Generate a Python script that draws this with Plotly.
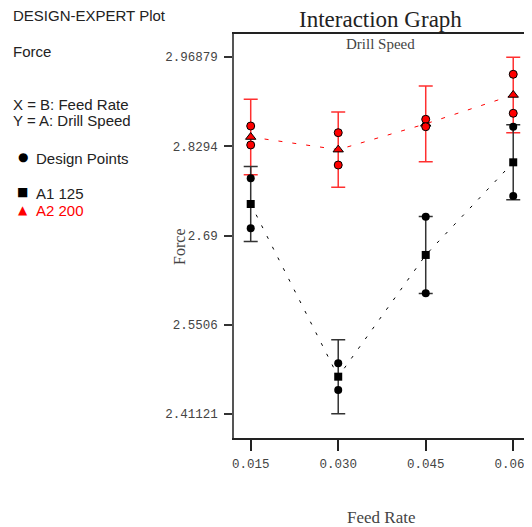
import plotly.graph_objects as go

# ---- data ----
feed_rate = [0.015, 0.030, 0.045, 0.060]
feed_labels = ["0.015", "0.030", "0.045", "0.060"]
force_ticks = [2.41121, 2.5506, 2.69, 2.8294, 2.96879]
force_tick_labels = ["2.41121", "2.5506", "2.69", "2.8294", "2.96879"]

a1_mean = [2.7392, 2.4695, 2.6596, 2.8043]          # A1 125
a2_mean = [2.8438, 2.8241, 2.8644, 2.9095]          # A2 200
a1_err = [0.0586, 0.0578, 0.0600, 0.0585]
a2_err = [0.0589, 0.0588, 0.0591, 0.0589]

pts_x = [0.015, 0.015, 0.030, 0.030, 0.045, 0.045, 0.060, 0.060]
a1_pts = [2.7794, 2.7013, 2.4904, 2.4487, 2.7194, 2.5998, 2.8599, 2.7517]
a2_pts = [2.8610, 2.8314, 2.8506, 2.8001, 2.8715, 2.8599, 2.9418, 2.8809]

# ---- layout geometry (pixels, page offset of 8px from body margin) ----
OFF = 8
W, H = 532 - OFF, 527 - OFF
L, T = 234 - OFF, 34 - OFF
BOT = 438 - OFF
R, B = 0, H - BOT
PW, PH = W - L - R, H - T - B

def px(x):
    return (x - OFF - L) / PW

def py(y):
    return (BOT - (y - OFF)) / PH

fig = go.Figure()

# interaction lines
fig.add_trace(go.Scatter(x=feed_rate, y=a2_mean, mode="lines",
                         line=dict(color="red", width=1, dash="4px,10px"),
                         showlegend=False, hoverinfo="skip"))
fig.add_trace(go.Scatter(x=feed_rate, y=a1_mean, mode="lines",
                         line=dict(color="black", width=1, dash="3px,9px"),
                         showlegend=False, hoverinfo="skip"))

# error bars + predicted means
fig.add_trace(go.Scatter(x=feed_rate, y=a2_mean, mode="markers",
                         error_y=dict(type="data", array=a2_err, color="#ff3030",
                                      thickness=1.5, width=7),
                         marker=dict(symbol="triangle-up", size=9, color="red",
                                     line=dict(color="black", width=1)),
                         showlegend=False))
fig.add_trace(go.Scatter(x=feed_rate, y=a1_mean, mode="markers",
                         error_y=dict(type="data", array=a1_err, color="#333333",
                                      thickness=1.5, width=7),
                         marker=dict(symbol="square", size=8, color="black"),
                         showlegend=False))

# design points
fig.add_trace(go.Scatter(x=pts_x, y=a2_pts, mode="markers",
                         marker=dict(symbol="circle", size=8, color="red",
                                     line=dict(color="black", width=1)),
                         showlegend=False))
fig.add_trace(go.Scatter(x=pts_x, y=a1_pts, mode="markers",
                         marker=dict(symbol="circle", size=8, color="black"),
                         showlegend=False))

# ---- axes ----
x0 = 0.015 - 17 / 89 * 0.015
x1 = x0 + PW / 89 * 0.015
ppu = (414 - 57) / (2.96879 - 2.41121)
y1 = 2.96879 + (57 - 34) / ppu
y0 = 2.41121 - (438 - 414) / ppu

tickfont = dict(family="Liberation Mono", size=12.5, color="#444444")
fig.update_xaxes(range=[x0, x1], tickvals=feed_rate, ticktext=feed_labels,
                 showline=True, linecolor="#222222", linewidth=1.5, mirror=True,
                 ticks="outside", ticklen=11, tickcolor="#222222", tickwidth=1.5,
                 ticklabelstandoff=2, ticklabeloverflow="allow",
                 showgrid=False, zeroline=False, tickfont=tickfont)
fig.update_yaxes(range=[y0, y1], tickvals=force_ticks, ticktext=force_tick_labels,
                 showline=True, linecolor="#555555", linewidth=1.5,
                 ticks="outside", ticklen=8, tickcolor="#333333", tickwidth=1.5,
                 ticklabelstandoff=4,
                 showgrid=False, zeroline=False, tickfont=tickfont)

serif = "Liberation Serif"
sans = "Liberation Sans"
ann = []
ann.append(dict(x=px(383), y=py(20), text="Interaction Graph",
                font=dict(family=serif, size=23, color="#222222")))
ann.append(dict(x=px(383), y=py(44), text="Drill Speed",
                font=dict(family=serif, size=15, color="#444444")))
ann.append(dict(x=px(178), y=py(247), text="Force", textangle=-90,
                font=dict(family=serif, size=16, color="#444444")))
ann.append(dict(x=px(383), y=py(517), text="Feed Rate",
                font=dict(family=serif, size=17, color="#444444")))

left_lines = [
    (7, 16, "DESIGN-EXPERT Plot", "#222222"),
    (7, 51, "Force", "#222222"),
    (7, 104, "X = B: Feed Rate", "#222222"),
    (7, 121, "Y = A: Drill Speed", "#222222"),
    (31, 158, "Design Points", "#222222"),
    (31, 193, "A1 125", "#222222"),
    (31, 211, "A2 200", "red"),
]
for x, y, t, c in left_lines:
    ann.append(dict(x=px(x), y=py(y), text=t, xanchor="left",
                    font=dict(family=sans, size=15, color=c)))
for x, y, t, c in [(19, 157, "●", "black"), (19, 192, "■", "black"), (19, 210, "▲", "red")]:
    ann.append(dict(x=px(x), y=py(y), text=t,
                    font=dict(family="DejaVu Sans", size=12, color=c)))

for a in ann:
    a.setdefault("xanchor", "center")
    a.update(xref="paper", yref="paper", yanchor="middle", showarrow=False)

fig.update_layout(width=W, height=H, margin=dict(l=L, r=R, t=T, b=B, pad=0),
                  plot_bgcolor="white", paper_bgcolor="white",
                  annotations=ann, showlegend=False)

fig.write_html("out.html")
